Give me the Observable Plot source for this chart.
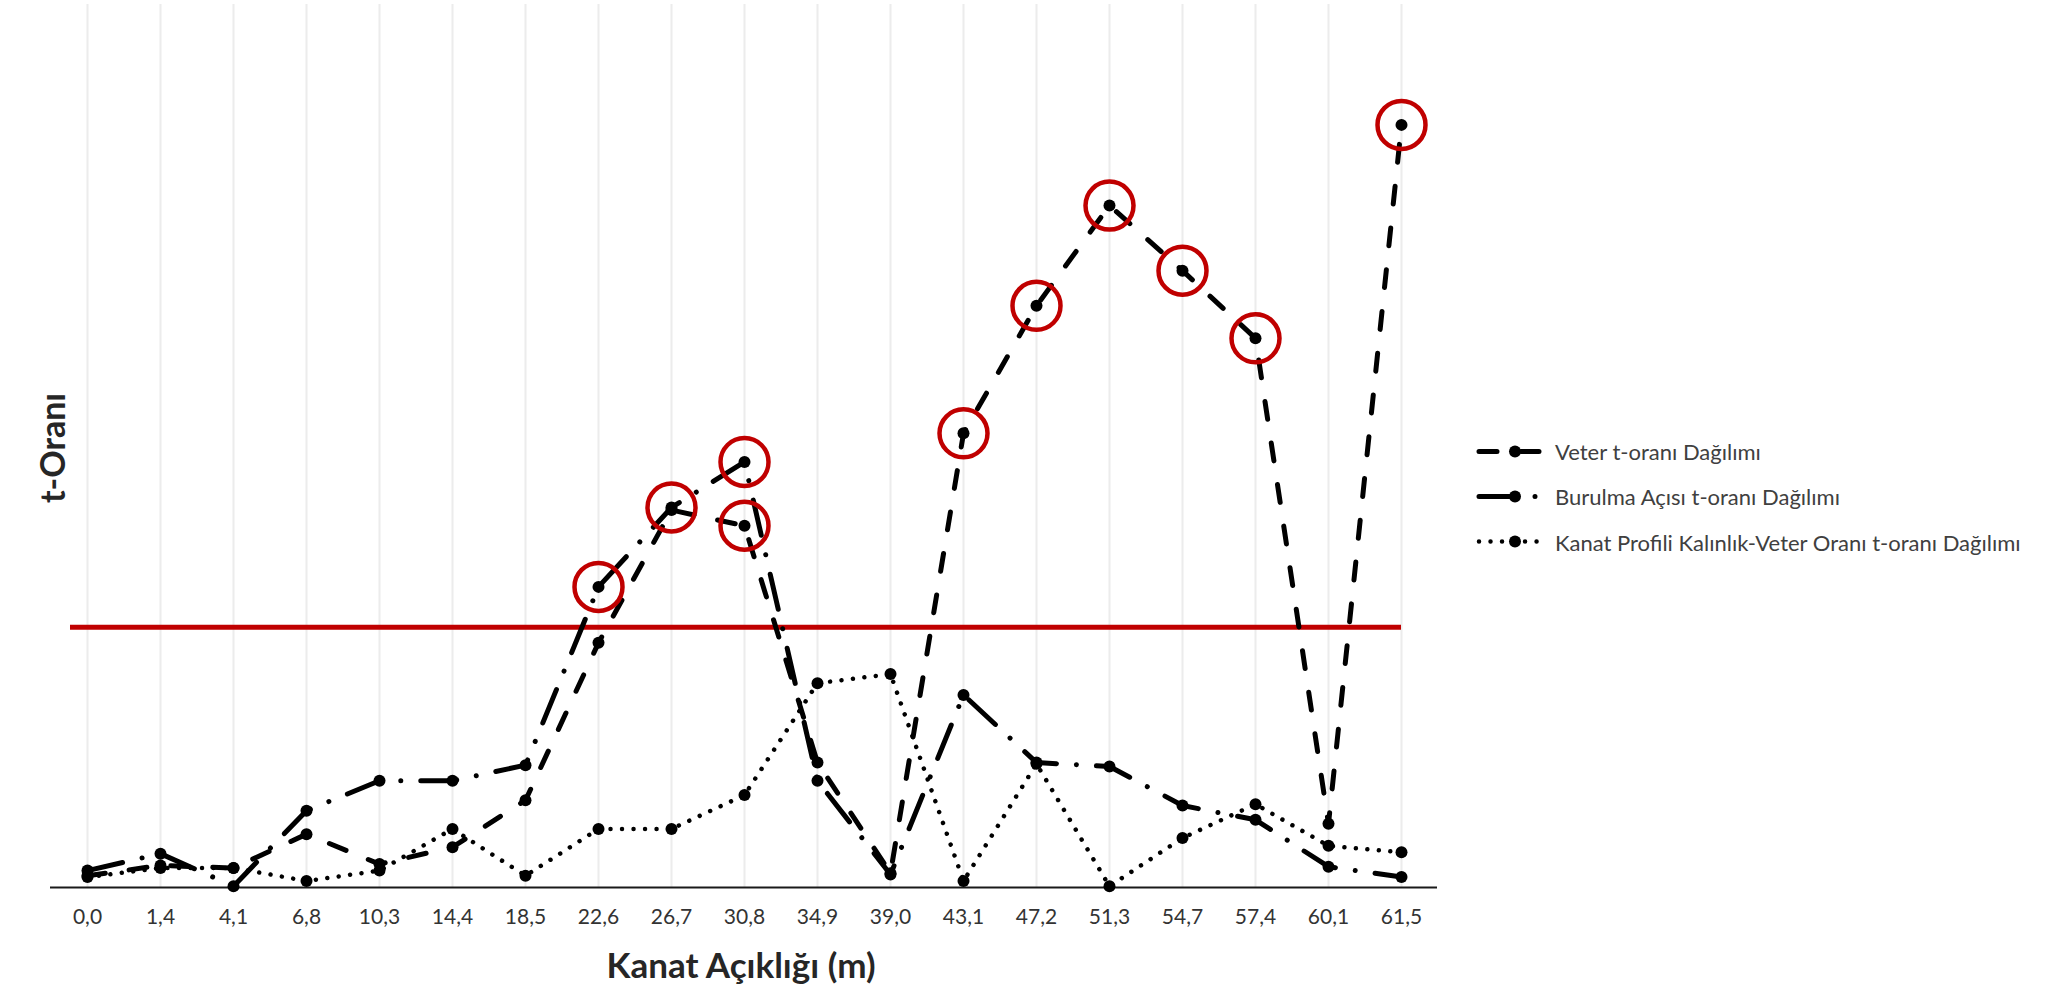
<!DOCTYPE html>
<html><head><meta charset="utf-8">
<script src="https://cdn.jsdelivr.net/npm/d3@7"></script>
<script src="https://cdn.jsdelivr.net/npm/@observablehq/plot@0.6"></script>
<style>
body{margin:0;background:#fff;font-family:Lato,"Open Sans",sans-serif;}
#wrap{position:relative;width:2057px;height:986px;overflow:hidden;background:#fff;}
#chart{position:absolute;left:0;top:0;}
.title-x{position:absolute;left:741px;top:964px;transform:translate(-50%,-50%);font-weight:700;font-size:35px;color:#262626;white-space:nowrap;line-height:1}
.title-y{position:absolute;left:52px;top:448px;transform:translate(-50%,-50%) rotate(-90deg);font-weight:700;font-size:34px;color:#262626;white-space:nowrap;line-height:1}
.leg-row{position:absolute;left:1476px;display:flex;align-items:center;white-space:nowrap;font-size:22px;color:#404040;transform:translateY(-50%)}
.leg-row svg{margin-right:13px}
</style></head>
<body>
<div id="wrap">
  <div id="chart"></div>
  <div class="title-x">Kanat Açıklığı (m)</div>
  <div class="title-y">t-Oranı</div>
</div>
<script>
const categories = ["0,0","1,4","4,1","6,8","10,3","14,4","18,5","22,6","26,7","30,8","34,9","39,0","43,1","47,2","51,3","54,7","57,4","60,1","61,5"];
const veter    = [0.09,0.17,0.15,0.41,0.18,0.31,0.67,1.88,2.90,2.78,0.96,0.11,3.49,4.47,5.24,4.74,4.22,0.49,5.86];
const burulma  = [0.13,0.26,0.01,0.59,0.82,0.82,0.94,2.31,2.92,3.27,0.82,0.10,1.48,0.96,0.93,0.63,0.52,0.16,0.08];
const kalinlik = [0.08,0.15,0.15,0.05,0.13,0.45,0.09,0.45,0.45,0.71,1.57,1.64,0.05,0.95,0.01,0.38,0.64,0.32,0.27];
const seriesNames = ["Veter t-oranı Dağılımı","Burulma Açısı t-oranı Dağılımı","Kanat Profili Kalınlık-Veter Oranı t-oranı Dağılımı"];
const threshold = 2;
const circledVeter = ["30,8","43,1","47,2","51,3","54,7","57,4","61,5"];
const circledBurulma = ["22,6","26,7","30,8"];

const styles = [
  {dash:"18,24", width:5},
  {dash:"36,20,0.01,20", width:5},
  {dash:"0.01,11.5", width:4.5}
];
const rows = (vals, s) => categories.map((c,i)=>({cat:c, value:vals[i], series:s}));
const sets = [rows(veter, seriesNames[0]), rows(burulma, seriesNames[1]), rows(kalinlik, seriesNames[2])];
const circled = [
  ...sets[0].filter(d=>circledVeter.includes(d.cat)),
  ...sets[1].filter(d=>circledBurulma.includes(d.cat))
];

const lineMarks = sets.map((d,i)=>Plot.lineY(d,{x:"cat", y:"value", stroke:"#000", strokeWidth:styles[i].width, strokeDasharray:styles[i].dash, strokeLinecap:"round", strokeLinejoin:"round"}));
const dotMarks = sets.map(d=>Plot.dot(d,{x:"cat", y:"value", r:6, fill:"#000", stroke:"none"}));

const chart = Plot.plot({
  width:1450, height:986,
  marginLeft:50, marginRight:13, marginTop:4, marginBottom:99,
  x:{type:"point", domain:categories, padding:0.5, label:null},
  y:{domain:[0,6.785], axis:null},
  style:{fontFamily:"Lato, 'Open Sans', sans-serif", background:"#fff", overflow:"visible"},
  marks:[
    Plot.ruleX(categories,{stroke:"#ececec", strokeWidth:2}),
    Plot.ruleY([0],{stroke:"#1a1a1a", strokeWidth:1.8}),
    Plot.ruleY([threshold],{stroke:"#c00000", strokeWidth:5, insetLeft:20, insetRight:36}),
    ...lineMarks,
    ...dotMarks,
    Plot.dot(circled,{x:"cat", y:"value", r:24, stroke:"#c00000", strokeWidth:4.5, fill:"none"}),
    Plot.axisX({tickSize:0, tickPadding:22, fontSize:21, color:"#333", label:null})
  ]
});
document.getElementById("chart").appendChild(chart);

// legend
const legendY = [451, 496, 541.7];
const wrap = document.getElementById("wrap");
seriesNames.forEach((name,i)=>{
  const row = document.createElement("div");
  row.className = "leg-row";
  row.style.top = legendY[i] + "px";
  const ns = "http://www.w3.org/2000/svg";
  const svg = document.createElementNS(ns,"svg");
  svg.setAttribute("width",66); svg.setAttribute("height",20);
  const ln = document.createElementNS(ns,"line");
  ln.setAttribute("x1",3); ln.setAttribute("x2",64); ln.setAttribute("y1",10); ln.setAttribute("y2",10);
  ln.setAttribute("stroke","#000"); ln.setAttribute("stroke-width",styles[i].width);
  ln.setAttribute("stroke-dasharray",styles[i].dash); ln.setAttribute("stroke-linecap","round");
  const c = document.createElementNS(ns,"circle");
  c.setAttribute("cx",39); c.setAttribute("cy",10); c.setAttribute("r",6); c.setAttribute("fill","#000");
  svg.appendChild(ln); svg.appendChild(c);
  const t = document.createElement("span"); t.textContent = name;
  row.appendChild(svg); row.appendChild(t);
  wrap.appendChild(row);
});
</script>
</body></html>
